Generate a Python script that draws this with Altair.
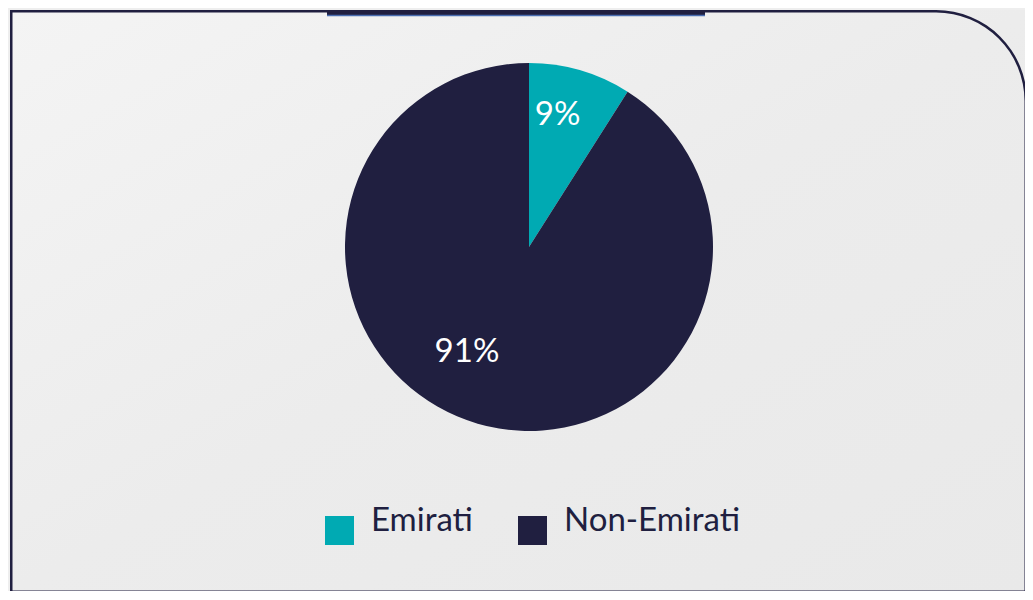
import altair as alt
import pandas as pd

categories = ["Emirati", "Non-Emirati"]
shares = [9, 91]
labels = ["9%", "91%"]
colors = ["#00AAB3", "#201F40"]

df = pd.DataFrame({"category": categories, "share": shares, "label": labels,
                   "order": list(range(len(categories)))})

W, H = 1017, 583
CX, CY, R = 519, 237, 184
NAVY = "#201F40"

base = alt.Chart(df)

bg = alt.Chart(alt.Data(values=[{}])).mark_rect(
    color=alt.Gradient(gradient="linear",
                       stops=[alt.GradientStop(color="#F4F4F4", offset=0),
                              alt.GradientStop(color="#ECECEC", offset=0.5),
                              alt.GradientStop(color="#E9E9E9", offset=1)],
                       x1=0, y1=0, x2=1, y2=1)
).encode(x=alt.value(0), x2=alt.value(W), y=alt.value(0), y2=alt.value(H))

color_scale = alt.Scale(domain=categories, range=colors)

pie = base.mark_arc(stroke=None).encode(
    theta=alt.Theta("share:Q", stack=True),
    color=alt.Color("category:N", scale=color_scale,
                    legend=alt.Legend(title=None, orient="none", direction="horizontal",
                                      legendX=313, legendY=504)),
    order=alt.Order("order:Q"),
    x=alt.value(CX), y=alt.value(CY),
    radius=alt.value(R),
)

def lab(cat, r, dx, dy):
    return base.mark_text(font="Lato", fontSize=33, color="white", dx=dx, dy=dy).encode(
        theta=alt.Theta("share:Q", stack=True),
        order=alt.Order("order:Q"),
        text=alt.condition(alt.datum.category == cat, "label:N", alt.value("")),
        x=alt.value(CX), y=alt.value(CY),
        radius=alt.value(r),
    )

lab1 = lab("Emirati", 135, -9, -2)
lab2 = lab("Non-Emirati", 122, -28, -12)

one = alt.Data(values=[{}])
top_bar = alt.Chart(one).mark_rect(color=NAVY).encode(
    x=alt.value(317), x2=alt.value(695), y=alt.value(0), y2=alt.value(5))
top_bar_edge = alt.Chart(one).mark_rule(color="#4A6DB0", strokeWidth=1.5).encode(
    x=alt.value(317), x2=alt.value(695), y=alt.value(5.5))

CR = 90
border_top = alt.Chart(one).mark_rule(color=NAVY, strokeWidth=2.5).encode(
    x=alt.value(0), x2=alt.value(W - 1 - CR), y=alt.value(1.25))
border_left = alt.Chart(one).mark_rule(color=NAVY, strokeWidth=2.5).encode(
    x=alt.value(1.25), y=alt.value(0), y2=alt.value(H))
border_bottom = alt.Chart(one).mark_rule(color=NAVY, strokeWidth=2.5).encode(
    x=alt.value(0), x2=alt.value(W), y=alt.value(H - 1.25))
border_right = alt.Chart(one).mark_rule(color=NAVY, strokeWidth=2.5).encode(
    x=alt.value(W - 1.25), y=alt.value(CR + 1), y2=alt.value(H))
corner = alt.Chart(one).mark_arc(color=NAVY, theta=0, theta2=1.5708,
                                 radius=CR + 1, radius2=CR - 1.5).encode(
    x=alt.value(W - 1 - CR), y=alt.value(CR + 1))

chart = alt.layer(
    bg, top_bar, top_bar_edge, pie, lab1, lab2,
    border_top, border_left, border_bottom, border_right, corner
).properties(
    width=W, height=H, padding=0,
    autosize=alt.AutoSizeParams(type="fit", contains="padding"),
    background="#EEEEEE",
).configure_view(stroke=None).configure_legend(
    symbolType="square", symbolSize=841, symbolStrokeWidth=0,
    labelFont="Lato", labelFontSize=33, labelColor=NAVY, labelBaseline="alphabetic",
    labelOffset=15, columnPadding=43, padding=0, labelLimit=400,
)

chart.save("out.html", embed_options={"renderer": "svg", "actions": False})
